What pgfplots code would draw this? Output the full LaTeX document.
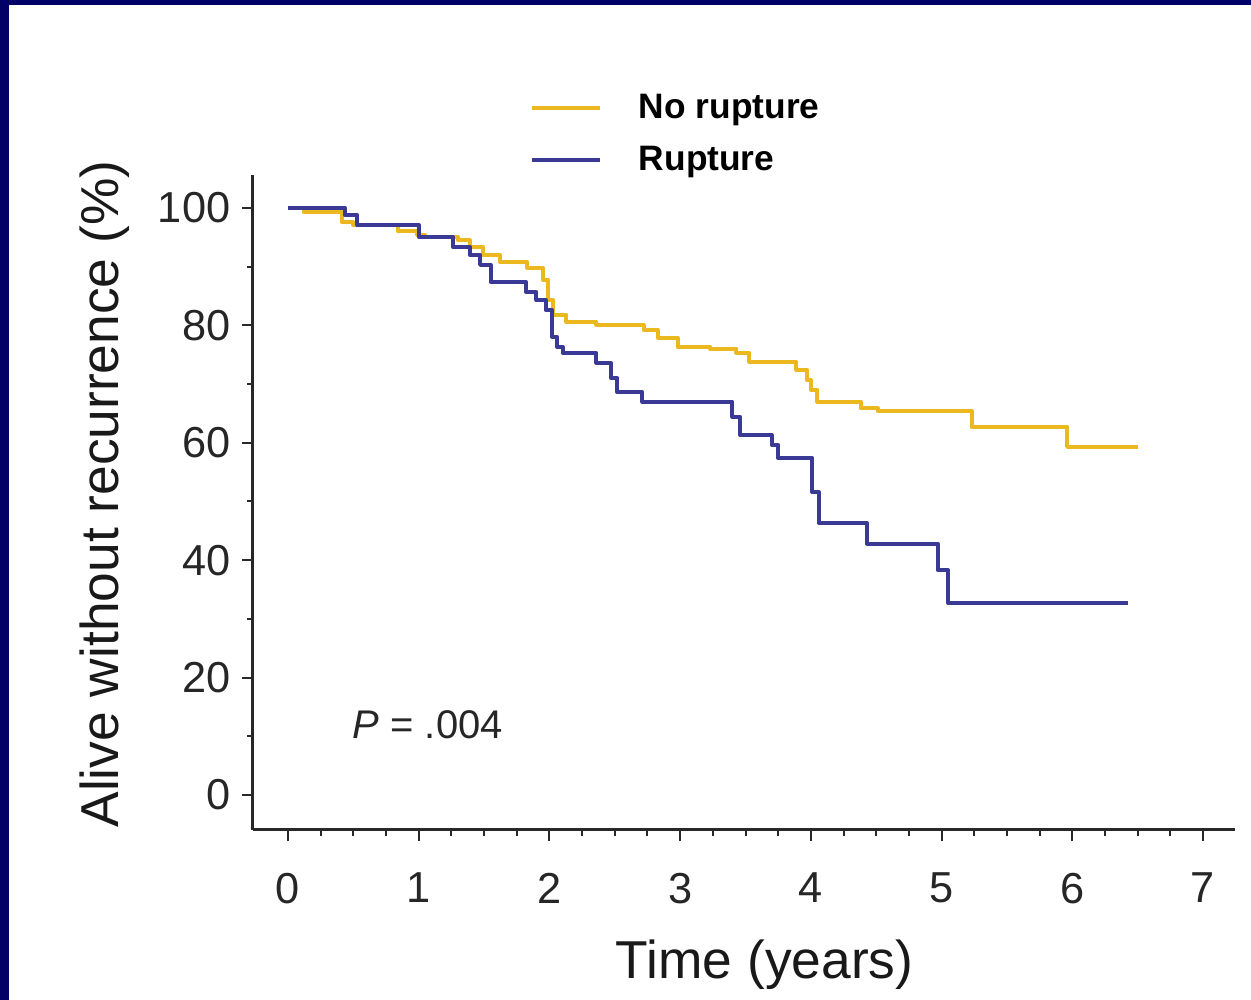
\documentclass[border=0pt]{standalone}
\usepackage{fontspec}
\setmainfont{Liberation Sans}
\usepackage{pgfplots}
\pgfplotsset{compat=1.18}
\definecolor{navyframe}{RGB}{0,0,102}
\definecolor{kmyellow}{RGB}{236,184,32}
\definecolor{kmblue}{RGB}{58,58,150}
\definecolor{axisgray}{RGB}{40,40,40}

\begin{document}
\begin{tikzpicture}[x=1pt,y=1pt]
\fill[white] (0,0) rectangle (375.3,300);
\fill[navyframe] (0,298.5) rectangle (375.3,300);
\fill[navyframe] (0,0) rectangle (2.7,300);
\path[use as bounding box] (0,0) rectangle (375.3,300);
\begin{axis}[
  at={(75.9pt,51pt)}, anchor=south west,
  scale only axis, width=294.6pt, height=196.5pt,
  xmin=-0.268, xmax=7.245, ymin=-5.96, ymax=105.6,
  axis lines=left,
  axis line style={-, line width=0.9pt, color=axisgray},
  tick align=outside,
  major tick length=3.3pt, minor tick length=1.8pt,
  every tick/.style={line width=0.6pt, color=axisgray},
  xtick={0,...,7}, ytick={0,20,...,100},
  minor x tick num=3, minor y tick num=1,
  tick label style={font=\fontsize{13}{13}\selectfont, color=black!85},
  xticklabel style={yshift=-6pt},
  /pgf/number format/assume math mode=true,
  xlabel={Time (years)}, ylabel={Alive without recurrence (\%)},
  label style={font=\fontsize{16}{16}\selectfont, color=black!90},
  xlabel style={at={(axis description cs:0.521,-0.226)}, anchor=base},
  ylabel style={at={(axis description cs:-0.151,0.513)}, anchor=center},
  legend style={at={(axis description cs:0.282,1.127)}, anchor=north west,
    draw=none, fill=none, inner sep=0pt, outer sep=0pt,
    nodes={inner sep=0pt, text height=8pt, text depth=2pt},
    font=\bfseries\fontsize{10.6}{10.6}\selectfont, row sep=5.6pt},
  legend image code/.code={\draw[#1, line width=1.2pt] (0pt,0pt) -- (20.4pt,0pt);
    \path (31.5pt,0pt);},
  legend cell align=left,
  clip=false,
]
\addplot[const plot, kmyellow, line width=1.2pt, line join=round] coordinates {
(0,100) (0.12,99.3) (0.41,97.6) (0.50,97.1) (0.84,96.0) (0.99,95.4) (1.05,95.1)
(1.30,94.5) (1.39,93.4) (1.49,92.0) (1.62,90.8) (1.83,89.8) (1.95,87.7)
(1.99,84.3) (2.03,81.8) (2.13,80.6) (2.36,80.1) (2.72,79.2) (2.83,77.9)
(2.98,76.3) (3.23,76.0) (3.43,75.3) (3.53,73.8) (3.89,72.4) (3.97,70.7)
(4.00,69.0) (4.05,67.0) (4.38,65.9) (4.51,65.4) (5.23,62.7) (5.96,59.3) (6.50,59.3)
};
\addlegendentry{No rupture}
\addplot[const plot, kmblue, line width=1.2pt, line join=round] coordinates {
(0,100) (0.435,98.8) (0.53,97.1) (1.0,95.1) (1.26,93.4) (1.39,92.0) (1.47,90.3)
(1.55,87.4) (1.82,85.7) (1.90,84.3) (1.97,82.6) (2.02,78.0) (2.06,76.3)
(2.10,75.3) (2.36,73.6) (2.47,71.0) (2.52,68.6) (2.71,67.0) (3.40,64.4)
(3.46,61.3) (3.70,59.6) (3.75,57.4) (4.01,51.6) (4.06,46.3) (4.43,42.8)
(4.97,38.3) (5.05,32.7) (6.43,32.7)
};
\addlegendentry{Rupture}
\node[anchor=base west, inner sep=0pt, font=\fontsize{12}{12}\selectfont, color=black!85]
  at (axis cs:0.49,9.7) {\textit{P} = .004};
\end{axis}
\end{tikzpicture}
\end{document}
